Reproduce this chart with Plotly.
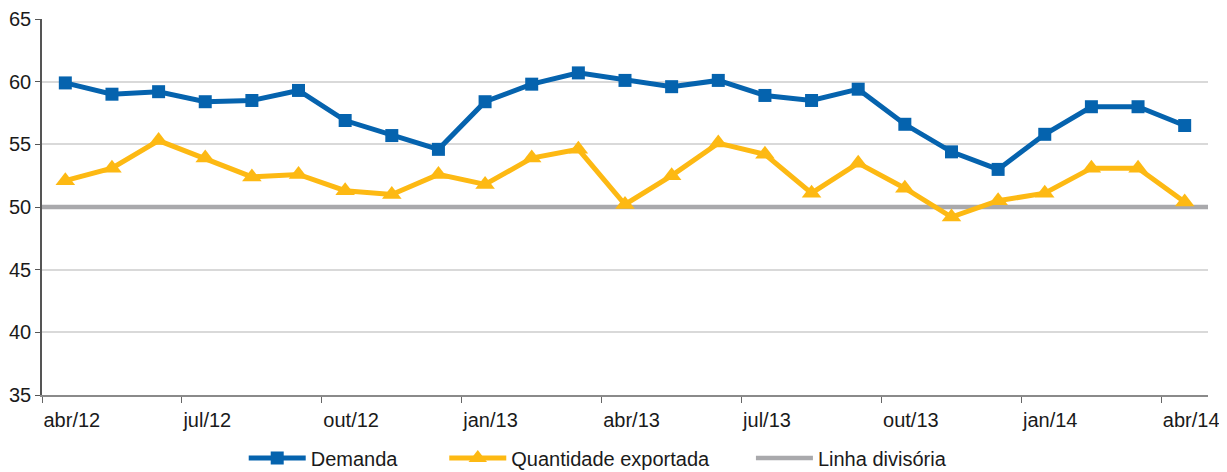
import plotly.graph_objects as go

meses = ["abr/12", "mai/12", "jun/12", "jul/12", "ago/12", "set/12", "out/12", "nov/12", "dez/12",
         "jan/13", "fev/13", "mar/13", "abr/13", "mai/13", "jun/13", "jul/13", "ago/13", "set/13",
         "out/13", "nov/13", "dez/13", "jan/14", "fev/14", "mar/14", "abr/14"]
demanda = [59.9, 59.0, 59.2, 58.4, 58.5, 59.3, 56.9, 55.7, 54.6, 58.4, 59.8, 60.7, 60.1,
           59.6, 60.1, 58.9, 58.5, 59.4, 56.6, 54.4, 53.0, 55.8, 58.0, 58.0, 56.5]
quantidade_exportada = [52.1, 53.1, 55.3, 53.9, 52.4, 52.6, 51.3, 51.0, 52.6, 51.8, 53.9, 54.6, 50.2,
                        52.5, 55.1, 54.2, 51.1, 53.5, 51.5, 49.2, 50.5, 51.1, 53.1, 53.1, 50.4]
linha_divisoria = 50
y_ticks = [35, 40, 45, 50, 55, 60, 65]

BLUE = "#0563AE"
YELLOW = "#FDB913"
GRAY = "#A9A9AC"
FONT = "Liberation Sans, Arial, sans-serif"
TXT = "#1a1a1a"

idx = list(range(len(meses)))
tick_idx = idx[::3]
x_range = [idx[0] - 0.5, idx[-1] + 0.5]

fig = go.Figure()
fig.add_trace(go.Scatter(x=x_range, y=[linha_divisoria] * len(x_range), name="Linha divisória",
                         mode="lines", line=dict(color=GRAY, width=4.5), legend="legend3",
                         cliponaxis=False))
fig.add_trace(go.Scatter(x=idx, y=demanda, name="Demanda", mode="lines+markers",
                         line=dict(color=BLUE, width=5),
                         marker=dict(symbol="square", size=13, color=BLUE),
                         legend="legend"))
fig.add_trace(go.Scatter(x=idx, y=quantidade_exportada, name="Quantidade exportada",
                         mode="lines+markers",
                         line=dict(color=YELLOW, width=5),
                         marker=dict(symbol="triangle-up", size=17, color=YELLOW),
                         legend="legend2"))

legend_common = dict(orientation="h", yanchor="top", y=-0.116, xanchor="left",
                     font=dict(family=FONT, size=20, color=TXT),
                     bgcolor="rgba(0,0,0,0)", itemwidth=57)

fig.update_layout(
    width=1219, height=464,
    margin=dict(l=34, r=19, t=11, b=77, autoexpand=False),
    paper_bgcolor="white", plot_bgcolor="white",
    font=dict(family=FONT, size=20, color=TXT),
    showlegend=True,
    legend=dict(legend_common, x=0.173),
    legend2=dict(legend_common, x=0.345),
    legend3=dict(legend_common, x=0.608),
    xaxis=dict(range=x_range,
               tickmode="array",
               tickvals=[i - 0.5 for i in tick_idx],
               ticktext=[meses[i] for i in tick_idx],
               ticklabelposition="outside right",
               ticklabelstandoff=6,
               ticks="outside", ticklen=6, tickcolor="#666", tickwidth=1,
               showgrid=False, zeroline=False,
               showline=True, linecolor="#8a8a8a", linewidth=2,
               tickfont=dict(family=FONT, size=20, color=TXT)),
    yaxis=dict(range=[35, 65], tickmode="array", tickvals=y_ticks,
               ticks="outside", ticklen=5, tickcolor="#555", tickwidth=1,
               showgrid=True, gridcolor="#D9D9D9", gridwidth=2,
               zeroline=False, showline=True, linecolor="#555", linewidth=1.5,
               tickfont=dict(family=FONT, size=20, color=TXT)),
)

fig.write_html("out.html")
